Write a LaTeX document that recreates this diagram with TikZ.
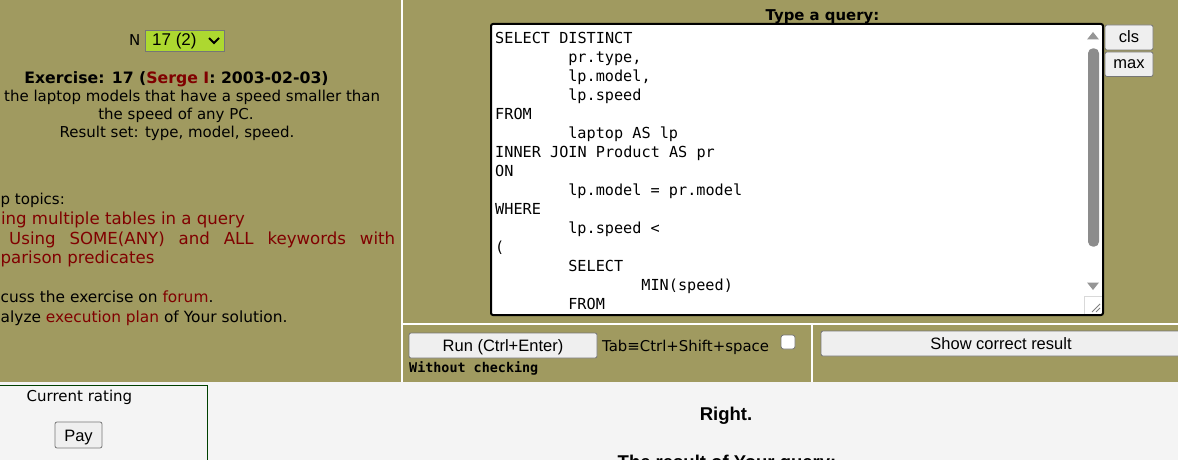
\documentclass[tikz,border=0pt]{standalone}
\usepackage{fontspec}
\setmainfont{DejaVu Sans}
\newfontfamily\arialf{Liberation Sans}
\newfontfamily\monof{DejaVu Sans Mono}
\definecolor{olivebg}{RGB}{160,154,96}
\definecolor{pagegrey}{RGB}{244,244,244}
\definecolor{btnfill}{RGB}{239,239,239}
\definecolor{btnborder}{RGB}{118,118,118}
\definecolor{selgreen}{RGB}{173,216,48}
\definecolor{linkred}{RGB}{128,0,0}
\definecolor{dkgreen}{RGB}{0,64,0}
\definecolor{scrollgrey}{RGB}{140,140,140}
\definecolor{arrowgrey}{RGB}{150,150,150}
\newcommand\tb{\hspace*{73.1pt}}
\begin{document}
\begin{tikzpicture}[x=1pt,y=-1pt,
  txt/.style={inner sep=0pt,anchor=base west,font=\fontsize{15}{18}\selectfont},
  txte/.style={txt,anchor=base east},
  txtc/.style={txt,anchor=base},
  topic/.style={inner sep=0pt,anchor=base east,text=linkred,font=\fontsize{16.6}{20}\selectfont},
  btn/.style={draw=btnborder,fill=btnfill,rounded corners=2pt,line width=0.8pt},
  btntext/.style={inner sep=0pt,anchor=base,font=\arialf\fontsize{16.5}{18}\selectfont},
  code/.style={inner sep=0pt,anchor=base west,font=\monof\fontsize{15.2}{19}\selectfont},
  boldlbl/.style={inner sep=0pt,anchor=base,font=\arialf\bfseries\fontsize{18.5}{22}\selectfont}]
\clip (0,0) rectangle (1178,460);
\useasboundingbox (0,0) rectangle (1178,460);
% backgrounds
\fill[olivebg] (0,0) rectangle (1178,382);
\fill[pagegrey] (0,382) rectangle (1178,460);
\fill[white] (401,0) rectangle (403,382);
\fill[white] (403,322.5) rectangle (1178,324.5);
\fill[white] (811,324.5) rectangle (813,382);
% ---- left panel
\node[txt] (nlabel) at (129,46) {N};
\draw[btnborder,fill=selgreen,line width=0.8pt] (145,30) rectangle (224,51);
\node[inner sep=0pt,anchor=base west,font=\arialf\fontsize{17}{18}\selectfont] (nsel) at (152,46) {17 (2)};
\draw[line width=1.8pt] (209,38) -- (214,43) -- (219,38);
\node[txtc,font=\bfseries\fontsize{15.7}{18}\selectfont] (exer) at (176.5,83.5) {Exercise: 17 (\textcolor{linkred}{Serge I}: 2003-02-03)};
\node[txt] (d1) at (4,101.5) {the laptop models that have a speed smaller than};
\node[txtc] (d2) at (176,119.5) {the speed of any PC.};
\node[txtc] (d3) at (177,137.5) {Result set: type, model, speed.};
\node[txt] (help) at (0.5,204) {p topics:};
\node[topic] (t1) at (245,224) {ing multiple tables in a query};
\node[topic,anchor=base west] (t2) at (9,244) {\makebox[386pt][s]{Using SOME(ANY) and ALL keywords with}};
\node[topic,anchor=base west] (t3) at (0.5,263.5) {parison predicates};
\node[txt,font=\fontsize{15.4}{18}\selectfont] (forum) at (0.5,302) {cuss the exercise on \textcolor{linkred}{forum}.};
\node[txt,font=\fontsize{15.4}{18}\selectfont] (plan) at (0.5,322) {alyze \textcolor{linkred}{execution plan} of Your solution.};
% ---- query panel
\node[txtc,font=\bfseries\fontsize{14.9}{18}\selectfont] (typeq) at (822.5,21) {Type a query:};
\draw[line width=2pt,rounded corners=2pt,fill=white] (491,24) rectangle (1103,315);
\foreach \i/\cl in {0/{SELECT DISTINCT},1/{\tb pr.type,},2/{\tb lp.model,},3/{\tb lp.speed},
  4/{FROM},5/{\tb laptop AS lp},6/{INNER JOIN Product AS pr},7/{ON},8/{\tb lp.model = pr.model},
  9/{WHERE},10/{\tb lp.speed <},11/{(},12/{\tb SELECT},13/{\tb\tb MIN(speed)},14/{\tb FROM}}
  \node[code] (c\i) at (495,{43.3+19*\i}) {\cl};
% scrollbar
\fill[arrowgrey] (1093,32) -- (1099,39.5) -- (1087,39.5) -- cycle;
\fill[scrollgrey,rounded corners=5pt] (1088,48.3) rectangle (1099,246.7);
\fill[arrowgrey] (1093,290) -- (1099,282.5) -- (1087,282.5) -- cycle;
\draw[gray!30,line width=0.6pt] (1084.5,314) -- (1084.5,296) -- (1102,296);
\draw[gray,line width=0.8pt] (1092,312) -- (1100,304) (1096,312) -- (1100,308);
% side buttons
\draw[btn] (1105,25) rectangle (1153,50);
\node[btntext] (cls) at (1129,42.7) {cls};
\draw[btn] (1105,52) rectangle (1153,76.5);
\node[btntext] (max) at (1129,69) {max};
% ---- run row
\draw[btn] (409,333) rectangle (597,358);
\node[btntext] (run) at (503,351.7) {Run (Ctrl+Enter)};
\node[txt,font=\fontsize{14.9}{18}\selectfont] (tab) at (602,351.7) {Tab≡Ctrl+Shift+space};
\draw[btnborder,fill=white,rounded corners=2.5pt,line width=0.8pt] (781,335) rectangle (795,349);
\node[inner sep=0pt,anchor=base west,font=\monof\bfseries\fontsize{13.4}{16}\selectfont] (woc) at (409,372.7) {Without checking};
\draw[btn] (821,331) rectangle (1190,356);
\node[btntext] (show) at (1001,349.3) {Show correct result};
% ---- bottom
\draw[dkgreen,line width=1pt] (-2,385.5) rectangle (207.5,480);
\node[txtc] (rating) at (79.5,401) {Current rating};
\draw[btn] (55,422) rectangle (102,448);
\node[btntext] (pay) at (78.5,441) {Pay};
\node[boldlbl] (right) at (726,420.7) {Right.};
\node[boldlbl] (result) at (727,468) {The result of Your query:};
\end{tikzpicture}
\end{document}
